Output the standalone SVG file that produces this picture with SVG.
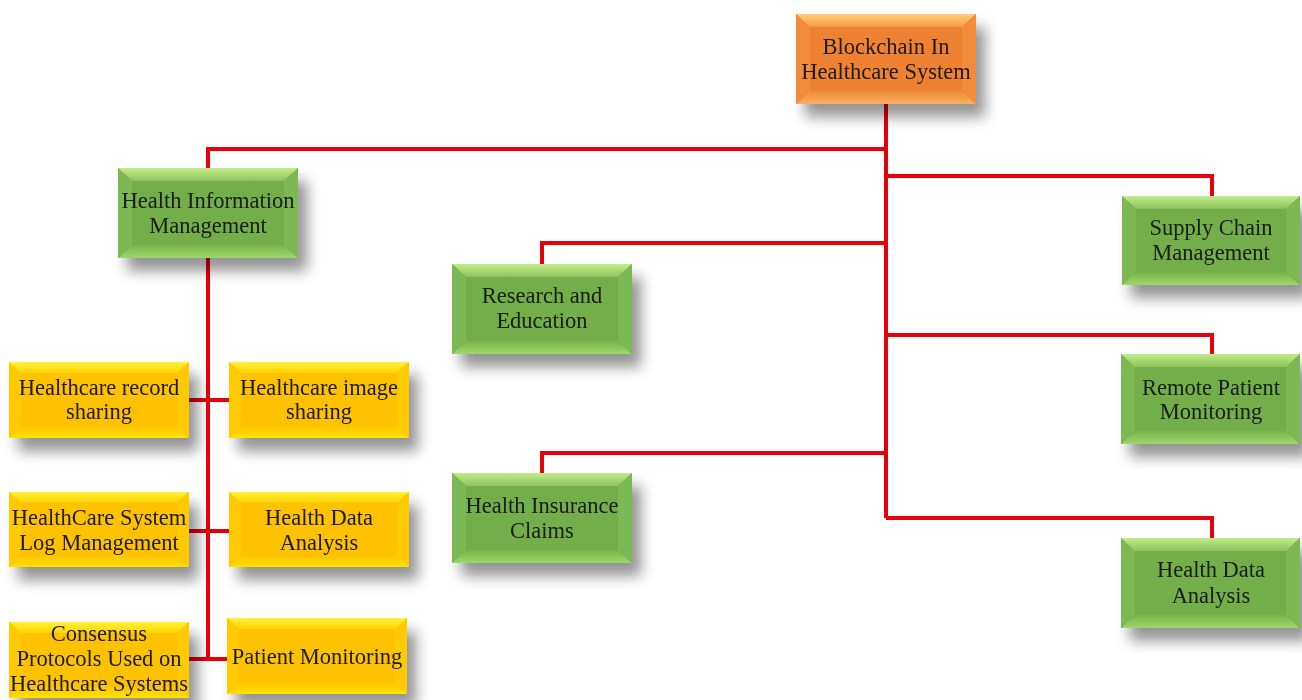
<svg xmlns="http://www.w3.org/2000/svg" width="1302" height="700" viewBox="0 0 1302 700">
  <defs>
    <filter id="shadow" x="-20%" y="-20%" width="160%" height="180%">
      <feDropShadow dx="9" dy="13" stdDeviation="7" flood-color="#000" flood-opacity="0.42"/>
    </filter>
    <!-- bevel gradients -->
    <linearGradient id="o-topg" x1="0" y1="0" x2="0" y2="1"><stop offset="0" stop-color="#FFD07A"/><stop offset="1" stop-color="#F39A45"/></linearGradient>
    <linearGradient id="o-botg" x1="0" y1="0" x2="0" y2="1"><stop offset="0" stop-color="#F08A36"/><stop offset="1" stop-color="#F9B063"/></linearGradient>
    <linearGradient id="g-topg" x1="0" y1="0" x2="0" y2="1"><stop offset="0" stop-color="#C2EC8A"/><stop offset="1" stop-color="#8CC45C"/></linearGradient>
    <linearGradient id="g-botg" x1="0" y1="0" x2="0" y2="1"><stop offset="0" stop-color="#78B44D"/><stop offset="1" stop-color="#9DD66A"/></linearGradient>
    <linearGradient id="y-topg" x1="0" y1="0" x2="0" y2="1"><stop offset="0" stop-color="#FFF23C"/><stop offset="1" stop-color="#FFD400"/></linearGradient>
    <linearGradient id="y-botg" x1="0" y1="0" x2="0" y2="1"><stop offset="0" stop-color="#FFC600"/><stop offset="1" stop-color="#FFE200"/></linearGradient>
    <style>
      .wire { fill: none; stroke: #E8000B; stroke-width: 4; stroke-linejoin: miter; }
      .lbl { font-family: "Liberation Serif", "Times New Roman", serif; font-size: 22.5px; fill: #1a1a1a; text-anchor: middle; }
      .o-base { fill: #EF8232; } .o-top { fill: url(#o-topg); } .o-bot { fill: url(#o-botg); } .o-side { fill: #F28C3A; }
      .g-base { fill: #72AE49; } .g-top { fill: url(#g-topg); } .g-bot { fill: url(#g-botg); } .g-side { fill: #7CB852; }
      .y-base { fill: #FFC200; } .y-top { fill: url(#y-topg); } .y-bot { fill: url(#y-botg); } .y-side { fill: #FFCB00; }
    </style>
    <!-- bevelled tiles -->
    <symbol id="tile-orange" viewBox="0 0 180 90" preserveAspectRatio="none">
      <rect class="o-base" width="180" height="90"/>
      <polygon class="o-top" points="0,0 180,0 166,13 14,13"/>
      <polygon class="o-bot" points="0,90 180,90 166,77 14,77"/>
      <polygon class="o-side" points="0,0 14,13 14,77 0,90"/>
      <polygon class="o-side" points="180,0 166,13 166,77 180,90"/>
    </symbol>
    <symbol id="tile-green" viewBox="0 0 180 90" preserveAspectRatio="none">
      <rect class="g-base" width="180" height="90"/>
      <polygon class="g-top" points="0,0 180,0 166,13 14,13"/>
      <polygon class="g-bot" points="0,90 180,90 166,77 14,77"/>
      <polygon class="g-side" points="0,0 14,13 14,77 0,90"/>
      <polygon class="g-side" points="180,0 166,13 166,77 180,90"/>
    </symbol>
    <symbol id="tile-yellow" viewBox="0 0 180 76" preserveAspectRatio="none">
      <rect class="y-base" width="180" height="76"/>
      <polygon class="y-top" points="0,0 180,0 168,11 12,11"/>
      <polygon class="y-bot" points="0,76 180,76 168,65 12,65"/>
      <polygon class="y-side" points="0,0 12,11 12,65 0,76"/>
      <polygon class="y-side" points="180,0 168,11 168,65 180,76"/>
    </symbol>
  </defs>

  <rect width="1302" height="700" fill="#fff"/>

  <!-- connectors -->
  <g id="connectors">
    <path class="wire" d="M886,104 V518"/>
    <path class="wire" d="M886,149 H208 V168"/>
    <path class="wire" d="M886,176 H1212 V196"/>
    <path class="wire" d="M886,243 H542 V264"/>
    <path class="wire" d="M886,335 H1212 V354"/>
    <path class="wire" d="M886,453 H542 V473"/>
    <path class="wire" d="M886,518 H1212 V538"/>
    <path class="wire" d="M208,258 V659"/>
    <path class="wire" d="M189,400 H229"/>
    <path class="wire" d="M189,531 H229"/>
    <path class="wire" d="M189,659 H227"/>
  </g>

  <!-- root -->
  <g id="root" filter="url(#shadow)">
    <use href="#tile-orange" x="796" y="14" width="180" height="90"/>
    <text class="lbl" x="886" y="54">Blockchain In</text>
    <text class="lbl" x="886" y="79">Healthcare System</text>
  </g>

  <!-- first level -->
  <g id="him" filter="url(#shadow)">
    <use href="#tile-green" x="118" y="168" width="180" height="90"/>
    <text class="lbl" x="208" y="208">Health Information</text>
    <text class="lbl" x="208" y="233">Management</text>
  </g>
  <g id="supply" filter="url(#shadow)">
    <use href="#tile-green" x="1122" y="196" width="178" height="89"/>
    <text class="lbl" x="1211" y="235">Supply Chain</text>
    <text class="lbl" x="1211" y="260">Management</text>
  </g>
  <g id="research" filter="url(#shadow)">
    <use href="#tile-green" x="452" y="264" width="180" height="90"/>
    <text class="lbl" x="542" y="303">Research and</text>
    <text class="lbl" x="542" y="328">Education</text>
  </g>
  <g id="remote" filter="url(#shadow)">
    <use href="#tile-green" x="1121" y="354" width="179" height="90"/>
    <text class="lbl" x="1211" y="395">Remote Patient</text>
    <text class="lbl" x="1211" y="419">Monitoring</text>
  </g>
  <g id="insurance" filter="url(#shadow)">
    <use href="#tile-green" x="452" y="473" width="180" height="90"/>
    <text class="lbl" x="542" y="513">Health Insurance</text>
    <text class="lbl" x="542" y="538">Claims</text>
  </g>
  <g id="analysis-right" filter="url(#shadow)">
    <use href="#tile-green" x="1121" y="538" width="179" height="90"/>
    <text class="lbl" x="1211" y="577">Health Data</text>
    <text class="lbl" x="1211" y="603">Analysis</text>
  </g>

  <!-- health information management children -->
  <g id="record-sharing" filter="url(#shadow)">
    <use href="#tile-yellow" x="9" y="362" width="180" height="76"/>
    <text class="lbl" x="99" y="395">Healthcare record</text>
    <text class="lbl" x="99" y="419">sharing</text>
  </g>
  <g id="image-sharing" filter="url(#shadow)">
    <use href="#tile-yellow" x="229" y="362" width="180" height="76"/>
    <text class="lbl" x="319" y="395">Healthcare image</text>
    <text class="lbl" x="319" y="419">sharing</text>
  </g>
  <g id="log-management" filter="url(#shadow)">
    <use href="#tile-yellow" x="9" y="492" width="180" height="75"/>
    <text class="lbl" x="99" y="525">HealthCare System</text>
    <text class="lbl" x="99" y="550">Log Management</text>
  </g>
  <g id="analysis-left" filter="url(#shadow)">
    <use href="#tile-yellow" x="229" y="492" width="180" height="75"/>
    <text class="lbl" x="319" y="525">Health Data</text>
    <text class="lbl" x="319" y="550">Analysis</text>
  </g>
  <g id="consensus" filter="url(#shadow)">
    <use href="#tile-yellow" x="9" y="622" width="180" height="76"/>
    <text class="lbl" x="99" y="641">Consensus</text>
    <text class="lbl" x="99" y="666">Protocols Used on</text>
    <text class="lbl" x="99" y="691">Healthcare Systems</text>
  </g>
  <g id="patient-monitoring" filter="url(#shadow)">
    <use href="#tile-yellow" x="227" y="618" width="180" height="76"/>
    <text class="lbl" x="317" y="664">Patient Monitoring</text>
  </g>
</svg>
